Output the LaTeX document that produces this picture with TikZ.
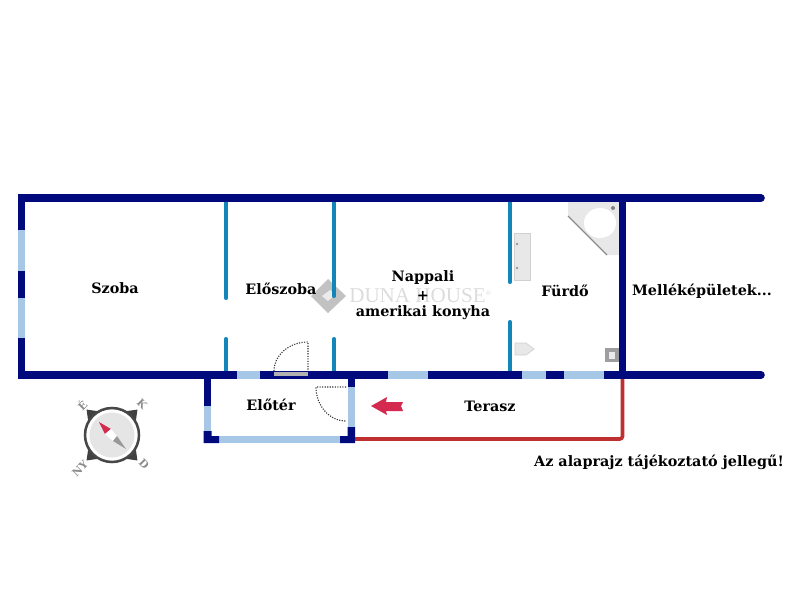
\documentclass[tikz,border=0pt]{standalone}
\usepackage{fontspec}
\setmainfont{DejaVu Serif}
\newfontfamily\brandfont{Liberation Serif}
\definecolor{wallcol}{HTML}{000A7C}
\definecolor{glasscol}{HTML}{A6C8E6}
\definecolor{innercol}{HTML}{1286B8}
\definecolor{fencecol}{HTML}{BE2F2F}
\definecolor{arrowcol}{HTML}{D42A50}
\definecolor{markcol}{HTML}{DCDCDC}
\tikzset{
  roomname/.style={font=\bfseries\fontsize{10.2}{12}\selectfont,text=black,inner sep=0pt},
  wall/.style={line width=5.4pt,draw=wallcol},
  glass/.style={line width=5.4pt,draw=glasscol},
  inner/.style={line width=2.9pt,draw=innercol,line cap=round},
  fence/.style={line width=2.6pt,draw=fencecol,rounded corners=2pt},
  swing/.style={densely dotted,line width=0.8pt,draw=black!80},
  fixture/.style={fill=black!9,draw=black!18,line width=0.5pt},
  compasstext/.style={font=\bfseries\fontsize{7.5}{8}\selectfont,text=black!45,inner sep=0pt}
}
\begin{document}
\begin{tikzpicture}[x=0.025cm,y=-0.025cm]
  \useasboundingbox (0,0) rectangle (800,600);
  % watermark
  \fill[black!24] (328,279) -- (346,296) -- (328,313) -- (311,296) -- cycle;
  \fill[black!8] (322,296) -- (330,290) -- (336,294) -- (328,301) -- cycle;
  \node[text=markcol,inner sep=0pt,anchor=west,font=\brandfont\fontsize{15}{17}\selectfont] (brand) at (349,296) {DUNA HOUSE\textsuperscript{\tiny ®}};
  % fixtures
  \draw[fixture,draw=none] (568,202) -- (620,202) -- (620,255) -- (607,255) -- (568,216) -- cycle;
  \draw[black!45,line width=0.8pt] (568,216) -- (607,255);
  \fill[white] (600,223) ellipse (16 and 15);
  \fill[black!50] (613,208) circle (2);
  \draw[fixture] (514,233) rectangle (530,280);
  \fill[black!40] (517,244) circle (1.3) (517,268) circle (1.3);
  \draw[fixture] (515,343) -- (526,343) -- (534,349) -- (526,355) -- (515,355) -- cycle;
  \draw[fill=black!38,draw=black!38] (605,348) rectangle (620,361);
  \fill[black!8] (609,359) rectangle (615,352);
  % inner walls
  \draw[inner] (226,202) -- (226,298);
  \draw[inner] (226,339) -- (226,371);
  \draw[inner] (334,202) -- (334,296);
  \draw[inner] (334,339) -- (334,371);
  \draw[inner] (510,202) -- (510,282);
  \draw[inner] (510,322) -- (510,371);
  % main walls
  \draw[wall,line cap=round] (25,198) -- (761,198);
  \draw[wall] (21.5,194) -- (21.5,230);
  \draw[glass] (21.5,230) -- (21.5,271);
  \draw[wall] (21.5,271) -- (21.5,298);
  \draw[glass] (21.5,298) -- (21.5,338);
  \draw[wall] (21.5,338) -- (21.5,379);
  \draw[wall] (18,375) -- (237,375);
  \draw[glass] (237,375) -- (260,375);
  \draw[wall] (260,375) -- (388,375);
  \draw[glass] (388,375) -- (428,375);
  \draw[wall] (428,375) -- (522,375);
  \draw[glass] (522,375) -- (546,375);
  \draw[wall] (546,375) -- (564,375);
  \draw[glass] (564,375) -- (604,375);
  \draw[wall] (604,375) -- (640,375);
  \draw[wall,line cap=round] (640,375) -- (761,375);
  \draw[wall] (622.5,202) -- (622.5,379);
  \fill[black!30] (274,372) rectangle (308,376);
  % entrance
  \draw[wall] (207.5,379) -- (207.5,406);
  \draw[glass] (207.5,406) -- (207.5,431);
  \draw[glass] (219,439.5) -- (340,439.5);
  \fill[wallcol] (203.5,431) -- (211.5,431) -- (211.5,436) -- (219,436) -- (219,443) -- (203.5,443) -- cycle;
  \draw[glass] (351.5,387) -- (351.5,427);
  \draw[wall] (351.5,379) -- (351.5,387);
  \fill[wallcol] (340,436) -- (347.5,436) -- (347.5,427) -- (355,427) -- (355,443) -- (340,443) -- cycle;
  \draw[fence] (622.5,379) -- (622.5,439) -- (355,439);
  % door swings
  \draw[swing] (274,371) arc (180:270:34 and 29) -- (308,371);
  \draw[swing] (346,387) -- (316,387) arc (180:90:30 and 34);
  % arrow
  \fill[arrowcol] (371,406) -- (387,397) -- (386,402) -- (403,402) -- (401,406) -- (403,411) -- (386,411) -- (387,415) -- cycle;
  % compass
  \foreach \ang in {45,135,225,315}
    \fill[black!75,shift={(112,435)},rotate=\ang] (24,-9) -- (36,0) -- (24,9) -- cycle;
  \draw[draw=black!72,line width=1.8pt,fill=white] (112,435) circle (27);
  \fill[black!10] (112,435) circle (22.5);
  \fill[arrowcol] (99,422) -- (111,429) -- (105,434) -- cycle;
  \fill[white] (105,434) -- (111,429) -- (117,436) -- (113,441) -- cycle;
  \fill[black!40] (117,436) -- (126,449) -- (113,441) -- cycle;
  \node[compasstext,rotate=45] (north) at (82,405) {É};
  \node[compasstext,rotate=-45] (east) at (142,404) {K};
  \node[compasstext,rotate=45] (west) at (80,469) {NY};
  \node[compasstext,rotate=-45] (south) at (144,464) {D};
  % rooms
  \node[roomname] (szoba) at (115,288) {Szoba};
  \node[roomname] (eloszoba) at (281,289) {Előszoba};
  \node[roomname] (nappali) at (423,278) {Nappali};
  \node[roomname] (plus) at (423,296) {+};
  \node[roomname] (konyha) at (423,313) {amerikai konyha};
  \node[roomname] (furdo) at (565,291) {Fürdő};
  \node[roomname] (mellek) at (702,291) {Melléképületek...};
  \node[roomname] (eloter) at (271,405) {Előtér};
  \node[roomname] (terasz) at (490,406) {Terasz};
  \node[roomname] (note) at (659,462) {Az alaprajz tájékoztató jellegű!};
\end{tikzpicture}
\end{document}
